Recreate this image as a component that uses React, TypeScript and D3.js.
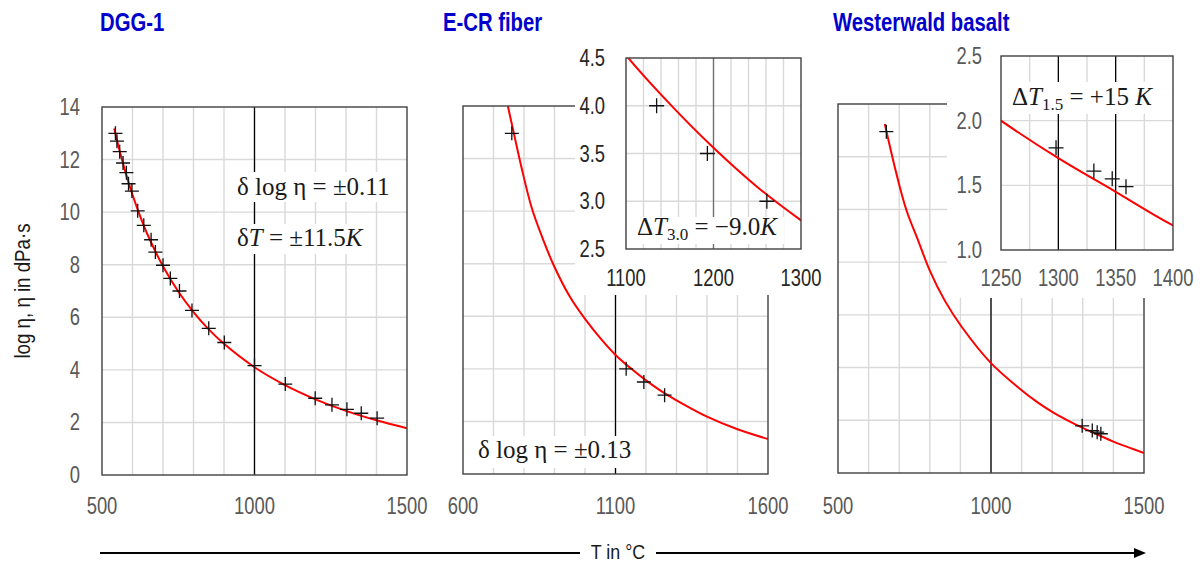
import React from 'react';
import * as d3 from 'd3';

// ---- DGG-1 ----
const dggPointT = [544, 549, 558, 569, 580, 587, 598, 617, 637, 661, 675, 700, 724, 754, 795, 850, 901, 1000, 1101, 1199, 1254, 1303, 1350, 1402];
const dggPointLog = [13.0, 12.7, 12.3, 11.87, 11.5, 11.08, 10.8, 10.05, 9.5, 8.95, 8.48, 7.98, 7.48, 7.0, 6.26, 5.58, 5.04, 4.16, 3.46, 2.92, 2.67, 2.5, 2.35, 2.16];
const dggCurveT = [540, 560, 580, 600, 625, 650, 700, 750, 800, 850, 900, 1000, 1100, 1200, 1300, 1400, 1500];
const dggCurveLog = [13.18, 12.23, 11.4, 10.66, 9.85, 9.13, 7.94, 6.98, 6.2, 5.54, 4.99, 4.1, 3.42, 2.88, 2.44, 2.08, 1.78];

// ---- E-CR fiber ----
const ecrPointT = [760, 1135, 1193, 1261];
const ecrPointLog = [12.96, 4.0, 3.5, 3.0];
const ecrCurveT = [747, 766, 793, 826, 860, 897, 950, 1000, 1055, 1100, 1150, 1200, 1250, 1300, 1400, 1500, 1600];
const ecrCurveLog = [14.0, 13.0, 11.6, 10.1, 9.0, 7.95, 6.75, 5.9, 5.1, 4.53, 4.02, 3.56, 3.15, 2.8, 2.18, 1.7, 1.33];

// ---- Westerwald basalt ----
const basPointT = [658, 1298, 1331, 1347, 1359];
const basPointLog = [12.95, 1.79, 1.61, 1.55, 1.49];
const basCurveT = [653, 691, 724, 762, 800, 849, 904, 1000, 1094, 1150, 1200, 1250, 1300, 1350, 1400, 1500];
const basCurveLog = [13.24, 11.35, 9.96, 8.82, 7.68, 6.54, 5.55, 4.17, 3.2, 2.7, 2.32, 2.0, 1.71, 1.45, 1.19, 0.76];

// ---- ticks ----
const logTicks = [0, 2, 4, 6, 8, 10, 12, 14];
const dggXTicks = [500, 1000, 1500];
const ecrXTicks = [600, 1100, 1600];
const basXTicks = [500, 1000, 1500];
const ecrInsetXTicks = [1100, 1200, 1300];
const ecrInsetYTicks = [2.5, 3.0, 3.5, 4.0, 4.5];
const basInsetXTicks = [1250, 1300, 1350, 1400];
const basInsetYTicks = [1.0, 1.5, 2.0, 2.5];

const sans = '"Liberation Sans", Arial, sans-serif';
const serif = '"Liberation Serif", "DejaVu Serif", serif';
const grid = '#d9d9d9';

type Box = { x: number; y: number; w: number; h: number };

const zip = (a: number[], b: number[]) => a.map((t, i) => [t, b[i]] as [number, number]);

// condensed text (the picture uses a narrow sans)
function NT(props: { x: number; y: number; anchor?: string; size?: number; fill?: string; weight?: number; rot?: number; sx?: number; children: React.ReactNode }) {
  const { x, y, anchor = 'start', size = 23, fill = '#595959', weight = 400, rot = 0, sx = 0.8 } = props;
  return (
    <text transform={`translate(${x},${y}) rotate(${rot}) scale(${sx},1)`} textAnchor={anchor}
      style={{ fontFamily: sans, fontSize: size, fill, fontWeight: weight }}>
      {props.children}
    </text>
  );
}

function Plot(props: {
  id: string; box: Box; xDomain: [number, number]; yDomain: [number, number];
  xGrid: number[]; yGrid: number[]; darkX: number[]; darkColor: string;
  curveT: number[]; curveV: number[]; ptT: number[]; ptV: number[]; cross: number;
}) {
  const { id, box, xDomain, yDomain } = props;
  const x = d3.scaleLinear().domain(xDomain).range([box.x, box.x + box.w]);
  const y = d3.scaleLinear().domain(yDomain).range([box.y + box.h, box.y]);
  const line = d3.line<[number, number]>().x(d => x(d[0])).y(d => y(d[1])).curve(d3.curveCatmullRom.alpha(0.5));
  const pts = zip(props.ptT, props.ptV).filter(d => d[0] >= xDomain[0] && d[0] <= xDomain[1] && d[1] >= yDomain[0] && d[1] <= yDomain[1]);
  const c = props.cross / 2;
  return (
    <g>
      <defs>
        <clipPath id={id}><rect x={box.x} y={box.y} width={box.w} height={box.h} /></clipPath>
      </defs>
      {props.xGrid.map(t => (
        <line key={'gx' + t} x1={x(t)} x2={x(t)} y1={box.y} y2={box.y + box.h} stroke={grid} strokeWidth={1.4} />
      ))}
      {props.yGrid.map(v => (
        <line key={'gy' + v} x1={box.x} x2={box.x + box.w} y1={y(v)} y2={y(v)} stroke={grid} strokeWidth={1.4} />
      ))}
      {props.darkX.map(t => (
        <line key={'dx' + t} x1={x(t)} x2={x(t)} y1={box.y} y2={box.y + box.h} stroke={props.darkColor} strokeWidth={1.3} />
      ))}
      <path d={line(zip(props.curveT, props.curveV)) || ''} fill="none" stroke="#ff0000" strokeWidth={2} clipPath={`url(#${id})`} />
      {pts.map((d, i) => (
        <path key={'p' + i} d={`M${x(d[0]) - c},${y(d[1])}h${2 * c}M${x(d[0])},${y(d[1]) - c}v${2 * c}`} stroke="#111" strokeWidth={1.3} />
      ))}
      <rect x={box.x} y={box.y} width={box.w} height={box.h} fill="none" stroke="#404040" strokeWidth={1.4} />
    </g>
  );
}

const range = (a: number, b: number, s: number) => d3.range(a, b + s / 2, s);

export default function App() {
  const p1: Box = { x: 102, y: 107, w: 305, h: 368 };
  const p2: Box = { x: 463, y: 106, w: 305, h: 368 };
  const p3: Box = { x: 838, y: 104, w: 306, h: 369 };
  const i2: Box = { x: 626, y: 58, w: 175, h: 191 };
  const i3: Box = { x: 1001, y: 56, w: 172, h: 194 };

  const x1 = d3.scaleLinear().domain([500, 1500]).range([p1.x, p1.x + p1.w]);
  const y1 = d3.scaleLinear().domain([0, 14]).range([p1.y + p1.h, p1.y]);
  const x2 = d3.scaleLinear().domain([600, 1600]).range([p2.x, p2.x + p2.w]);
  const x3 = d3.scaleLinear().domain([500, 1500]).range([p3.x, p3.x + p3.w]);
  const xi2 = d3.scaleLinear().domain([1100, 1300]).range([i2.x, i2.x + i2.w]);
  const yi2 = d3.scaleLinear().domain([2.5, 4.5]).range([i2.y + i2.h, i2.y]);
  const xi3 = d3.scaleLinear().domain([1250, 1400]).range([i3.x, i3.x + i3.w]);
  const yi3 = d3.scaleLinear().domain([1.0, 2.5]).range([i3.y + i3.h, i3.y]);

  const mathStyle = { fontFamily: serif, fontSize: 25, fill: '#1a1a1a' };

  return (
    <svg width={1200} height={563} style={{ position: 'absolute', left: 0, top: 0, background: '#fff' }}>
      <rect width={1200} height={563} fill="#fff" />
      <NT x={100} y={31} size={26} weight={700} sx={0.78} fill="#0000cc">DGG-1</NT>
      <NT x={443} y={31} size={26} weight={700} sx={0.78} fill="#0000cc">E-CR fiber</NT>
      <NT x={833} y={31} size={26} weight={700} sx={0.78} fill="#0000cc">Westerwald basalt</NT>

      {/* DGG-1 */}
      <Plot id="c1" box={p1} xDomain={[500, 1500]} yDomain={[0, 14]} xGrid={range(600, 1400, 100)} yGrid={range(2, 12, 2)}
        darkX={[1000]} darkColor="#000" curveT={dggCurveT} curveV={dggCurveLog} ptT={dggPointT} ptV={dggPointLog} cross={14} />
      {logTicks.map(v => (
        <NT key={'ly' + v} x={80} y={y1(v) + 8} anchor="end">{v}</NT>
      ))}
      {dggXTicks.map(t => (
        <NT key={'lx1' + t} x={x1(t)} y={514} anchor="middle">{t}</NT>
      ))}
      <NT x={30} y={p1.y + p1.h / 2} rot={-90} anchor="middle" size={22} sx={0.85} fill="#1a1a1a">log η, η in dPa·s</NT>
      <rect x={232} y={172} width={162} height={30} fill="#fff" />
      <text x={237} y={195} style={mathStyle}>δ log η = ±0.11</text>
      <rect x={232} y={224} width={142} height={30} fill="#fff" />
      <text x={237} y={246} style={mathStyle}>δ<tspan fontStyle="italic">T</tspan> = ±11.5<tspan fontStyle="italic">K</tspan></text>

      {/* E-CR fiber */}
      <Plot id="c2" box={p2} xDomain={[600, 1600]} yDomain={[0, 14]} xGrid={range(700, 1500, 100)} yGrid={range(2, 12, 2)}
        darkX={[1100]} darkColor="#000" curveT={ecrCurveT} curveV={ecrCurveLog} ptT={ecrPointT} ptV={ecrPointLog} cross={14} />
      {ecrXTicks.map(t => (
        <NT key={'lx2' + t} x={x2(t)} y={514} anchor="middle">{t}</NT>
      ))}
      <rect x={470} y={436} width={168} height={32} fill="#fff" />
      <text x={478} y={458} style={mathStyle}>δ log η = ±0.13</text>
      <rect x={575} y={36} width={245} height={259} fill="#fff" />
      <Plot id="c2i" box={i2} xDomain={[1100, 1300]} yDomain={[2.5, 4.5]} xGrid={range(1120, 1280, 20)} yGrid={[3.0, 3.5, 4.0]}
        darkX={[1200]} darkColor="#6e6e6e" curveT={ecrCurveT} curveV={ecrCurveLog} ptT={ecrPointT} ptV={ecrPointLog} cross={15} />
      {ecrInsetYTicks.map(v => (
        <NT key={'iy2' + v} x={605} y={yi2(v) + 8} anchor="end" fill="#262626">{v.toFixed(1)}</NT>
      ))}
      {ecrInsetXTicks.map(t => (
        <NT key={'ix2' + t} x={xi2(t)} y={286} anchor="middle" fill="#262626">{t}</NT>
      ))}
      <rect x={632} y={217} width={152} height={27} fill="#fff" />
      <text x={637} y={235} style={mathStyle}>Δ<tspan fontStyle="italic">T</tspan><tspan fontSize={17} dy={5}>3.0</tspan><tspan dy={-5}>  =  −9.0</tspan><tspan fontStyle="italic">K</tspan></text>

      {/* Westerwald basalt */}
      <Plot id="c3" box={p3} xDomain={[500, 1500]} yDomain={[0, 14]} xGrid={range(600, 1400, 100)} yGrid={range(2, 12, 2)}
        darkX={[1000]} darkColor="#000" curveT={basCurveT} curveV={basCurveLog} ptT={basPointT} ptV={basPointLog} cross={14} />
      {basXTicks.map(t => (
        <NT key={'lx3' + t} x={x3(t)} y={514} anchor="middle">{t}</NT>
      ))}
      <rect x={947} y={36} width={253} height={262} fill="#fff" />
      <Plot id="c3i" box={i3} xDomain={[1250, 1400]} yDomain={[1.0, 2.5]} xGrid={[1275, 1325, 1375]} yGrid={[1.5, 2.0]}
        darkX={[1300, 1350]} darkColor="#000" curveT={basCurveT} curveV={basCurveLog} ptT={basPointT} ptV={basPointLog} cross={15} />
      {basInsetYTicks.map(v => (
        <NT key={'iy3' + v} x={982} y={yi3(v) + 8} anchor="end">{v.toFixed(1)}</NT>
      ))}
      {basInsetXTicks.map(t => (
        <NT key={'ix3' + t} x={xi3(t)} y={286} anchor="middle">{t}</NT>
      ))}
      <rect x={1007} y={82} width={160} height={32} fill="#fff" />
      <text x={1012} y={105} style={mathStyle}>Δ<tspan fontStyle="italic">T</tspan><tspan fontSize={17} dy={5}>1.5</tspan><tspan dy={-5}>  =  +15 </tspan><tspan fontStyle="italic">K</tspan></text>

      {/* T axis arrow */}
      <line x1={100} x2={580} y1={553} y2={553} stroke="#000" strokeWidth={2} />
      <line x1={656} x2={1136} y1={553} y2={553} stroke="#000" strokeWidth={2} />
      <path d="M1146,553 L1134,548 L1134,558 Z" fill="#000" />
      <NT x={618} y={559} anchor="middle" size={21} sx={0.85} fill="#1a1a1a">T in °C</NT>
    </svg>
  );
}
